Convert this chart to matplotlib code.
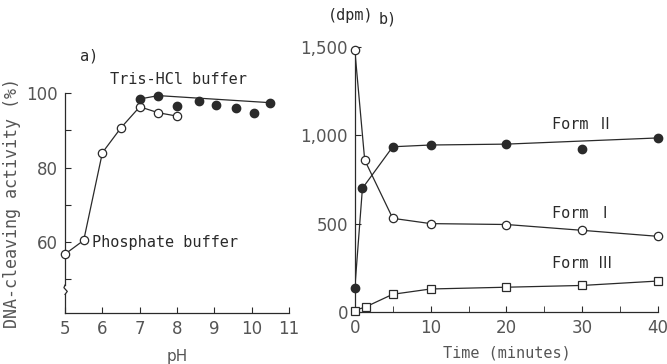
import matplotlib.pyplot as plt

# panel a: DNA-cleaving activity vs pH
ph_phos = [5.0, 5.5, 6.0, 6.5, 7.0, 7.5, 8.0]
act_phos = [56.8, 60.5, 84.0, 90.7, 96.3, 94.7, 93.8]
ph_tris = [7.0, 7.5, 8.0, 8.6, 9.05, 9.58, 10.07, 10.5]
act_tris = [98.4, 99.3, 96.6, 97.9, 96.9, 96.0, 94.7, 97.4]
# the drawn tris line goes through these points only
tris_line_idx = [0, 1, 7]

# panel b: dpm vs time
t_I = [0, 1.3, 5, 10, 20, 30, 40]
dpm_I = [1480, 860, 530, 500, 495, 462, 428]
t_II = [0, 1, 5, 10, 20, 30, 40]
dpm_II = [135, 700, 935, 945, 950, 925, 985]
form2_line_idx = [0, 1, 2, 3, 4, 6]
t_III = [0, 1.5, 5, 10, 20, 30, 40]
dpm_III = [8, 30, 100, 130, 140, 150, 175]

ink = '#2a2a2a'
tickc = '#555555'
mono = ['DejaVu Sans Mono', 'Noto Sans CJK JP']

fig = plt.figure(figsize=(6.67, 3.64), dpi=100)

# ---------- a ----------
ax = fig.add_axes([0.0975, 0.14, 0.336, 0.6045])
ax.plot(ph_phos, act_phos, '-', color=ink, lw=0.9, zorder=2)
ax.plot(ph_phos, act_phos, 'o', ms=6, mfc='white', mec=ink, mew=0.9,
        clip_on=False, zorder=3)
ax.plot([ph_tris[i] for i in tris_line_idx], [act_tris[i] for i in tris_line_idx],
        '-', color=ink, lw=0.9, zorder=2)
ax.plot(ph_tris, act_tris, 'o', ms=6, mfc=ink, mec=ink, clip_on=False, zorder=3)
ax.set_xlim(5, 11)
ax.set_ylim(41, 100)
ax.set_xticks(range(5, 12))
ax.set_yticks([50, 60, 70, 80, 90, 100])
ax.set_yticklabels(['', '60', '', '80', '', '100'])
for s in ['top', 'right']:
    ax.spines[s].set_visible(False)
for s in ['left', 'bottom']:
    ax.spines[s].set_color(ink)
    ax.spines[s].set_linewidth(0.9)
ax.spines['left'].set_bounds(48.5, 100)
# broken axis piece
ax.plot([5, 5], [41, 46], color=ink, lw=0.9, clip_on=False)
ax.plot([5.0, 5.06, 4.97, 5.0], [46, 46.8, 47.8, 48.5], color=ink, lw=0.9, clip_on=False)
ax.tick_params(direction='in', length=4, color=ink, labelcolor=tickc, labelsize=12, pad=5)
ax.set_xlabel('pH', fontsize=11, color=tickc, labelpad=8)
ax.set_ylabel('DNA-cleaving activity (%)', family=mono, fontsize=12, color=tickc, labelpad=4)
fig.text(0.12, 0.835, 'a)', family=mono, fontsize=11, color=ink)
ax.text(6.2, 102.5, 'Tris-HCl buffer', family=mono, fontsize=11, color=ink)
ax.text(5.72, 60, 'Phosphate buffer', family=mono, fontsize=11, color=ink, va='center')

# ---------- b ----------
bx = fig.add_axes([0.532, 0.143, 0.4545, 0.728])
bx.plot(t_I, dpm_I, '-', color=ink, lw=0.9, zorder=2)
bx.plot(t_I, dpm_I, 'o', ms=6, mfc='white', mec=ink, mew=0.9, clip_on=False, zorder=3)
bx.plot([t_II[i] for i in form2_line_idx], [dpm_II[i] for i in form2_line_idx],
        '-', color=ink, lw=0.9, zorder=2)
bx.plot(t_II, dpm_II, 'o', ms=6, mfc=ink, mec=ink, clip_on=False, zorder=3)
bx.plot(t_III, dpm_III, 's-', ms=6, color=ink, lw=0.9, mfc='white', mec=ink, mew=0.9,
        clip_on=False, zorder=3)
bx.set_xlim(0, 40)
bx.set_ylim(0, 1500)
bx.set_xticks(range(0, 41, 10))
bx.set_xticks(range(5, 40, 10), minor=True)
bx.set_yticks([0, 500, 1000, 1500])
bx.set_yticklabels(['0', '500', '1,000', '1,500'])
for s in ['top', 'right']:
    bx.spines[s].set_visible(False)
for s in ['left', 'bottom']:
    bx.spines[s].set_color(ink)
    bx.spines[s].set_linewidth(0.9)
bx.tick_params(which='both', direction='in', length=4, color=ink, labelcolor=tickc,
               labelsize=12, pad=5)
bx.set_xlabel('Time (minutes)', family=mono, fontsize=11, color=tickc, labelpad=6)
fig.text(0.492, 0.945, '(dpm)', family=mono, fontsize=11, color=ink)
fig.text(0.568, 0.935, 'b)', family=mono, fontsize=11, color=ink)
bx.text(26, 1035, 'Form \u2161', family=mono, fontsize=11, color=ink)
bx.text(26, 530, 'Form \u2160', family=mono, fontsize=11, color=ink)
bx.text(26, 250, 'Form \u2162', family=mono, fontsize=11, color=ink)

fig.savefig('out.png', dpi=100)
